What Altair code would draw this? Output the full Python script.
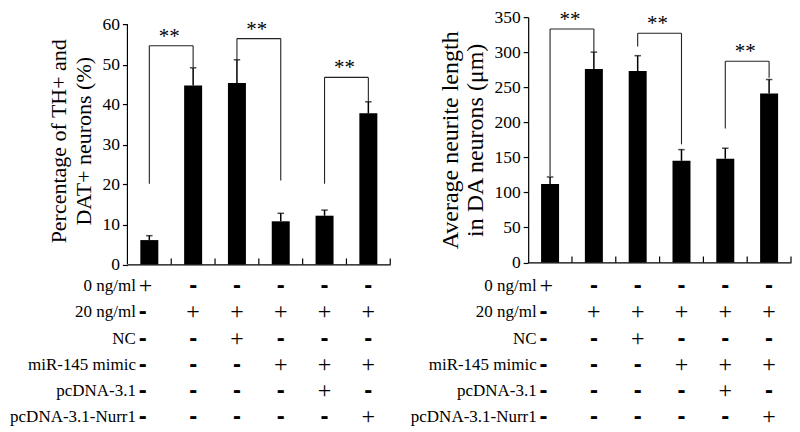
import altair as alt
import pandas as pd

FONT = "Liberation Serif"

# ---------------- data ----------------
groups = ["1", "2", "3", "4", "5", "6"]

# Left panel: percentage of TH+ and DAT+ neurons
th_mean = [6.1, 44.8, 45.4, 10.8, 12.2, 37.8]
th_sd = [1.1, 4.4, 5.8, 2.0, 1.4, 2.9]
th_ticks = [0, 10, 20, 30, 40, 50, 60]
th_br_left = ["1", "3", "5"]
th_br_right = ["2", "4", "6"]
th_br_lo = [20.2, 51.2, 20.2]
th_br_top = [54.7, 56.5, 46.8]
th_br_ro = [49.4, 21.0, 40.8]

# Right panel: average neurite length
len_mean = [112, 276, 273, 145, 148, 241]
len_sd = [10, 24, 22, 16, 15, 20]
len_ticks = [0, 50, 100, 150, 200, 250, 300, 350]
len_br_left = ["1", "3", "5"]
len_br_right = ["2", "4", "6"]
len_br_lo = [123.5, 308.0, 191.0]
len_br_top = [333.0, 327.0, 287.0]
len_br_ro = [300.0, 168.5, 263.5]

# Treatment table
rows = ["0 ng/ml", "20 ng/ml", "NC", "miR-145 mimic", "pcDNA-3.1", "pcDNA-3.1-Nurr1"]
signs = [
    ["+", "-", "-", "-", "-", "-"],
    ["-", "+", "+", "+", "+", "+"],
    ["-", "-", "+", "-", "-", "-"],
    ["-", "-", "-", "+", "+", "+"],
    ["-", "-", "-", "-", "+", "-"],
    ["-", "-", "-", "-", "-", "+"],
]

PLOT_W = 263
XSCALE = alt.Scale(domain=groups, paddingInner=0, paddingOuter=0)
XAXIS = alt.Axis(labels=False, ticks=False, title=None, domain=True,
                 domainColor="black", domainWidth=1.2, grid=False)


def bar_panel(means, sds, ticks, dom_max, height, title, title_size, title_pad,
              own_domain, bl, br, blo, btop, bro):
    df = pd.DataFrame({"group": groups, "mean": means,
                       "hi": [m + s for m, s in zip(means, sds)]})
    yscale = alt.Scale(domain=[0, dom_max], nice=False, zero=True)
    yaxis = alt.Axis(values=ticks, grid=False, domain=own_domain,
                     domainColor="black", domainWidth=1.2,
                     tickColor="black", tickSize=5, tickWidth=1.2,
                     labelFont=FONT, labelFontSize=17.5, labelColor="black",
                     labelPadding=3, title=title, titleFont=FONT,
                     titleFontSize=title_size, titleFontWeight="normal",
                     titleColor="black", titlePadding=title_pad,
                     titleLineHeight=25)

    def X(field="group:N", **kw):
        return alt.X(field, scale=XSCALE, axis=XAXIS, **kw)

    def Y(field):
        return alt.Y(field, scale=yscale, axis=yaxis)

    base = alt.Chart(df)
    bars = base.mark_bar(size=18, color="black").encode(x=X(), y=Y("mean:Q"))
    err = base.mark_rule(color="black", strokeWidth=1.5).encode(
        x=X(), y=Y("mean:Q"), y2="hi:Q")
    cap = base.mark_tick(color="black", size=6.5, thickness=1.5).encode(
        x=X(), y=Y("hi:Q"))
    xt = base.mark_rule(color="black", strokeWidth=1.2).encode(
        x=X(bandPosition=1), y=alt.value(height), y2=alt.value(height - 6))

    bdf = pd.DataFrame({"left": bl, "right": br, "lo": blo, "top": btop, "ro": bro})
    bb = alt.Chart(bdf)
    bstyle = dict(color="#222222", strokeWidth=1.1)
    leg_l = bb.mark_rule(**bstyle).encode(
        x=X("left:N", bandPosition=0.5), y=Y("lo:Q"), y2="top:Q")
    leg_r = bb.mark_rule(**bstyle).encode(
        x=X("right:N", bandPosition=0.5), y=Y("ro:Q"), y2="top:Q")
    top = bb.mark_rule(**bstyle).encode(
        x=X("left:N", bandPosition=0.5),
        x2=alt.X2("right:N", bandPosition=0.5),
        y=Y("top:Q"))
    stars = bb.mark_text(text="**", font=FONT, fontSize=21, color="black",
                         baseline="middle", dy=-9, dx=-2).encode(
        x=X("left:N", bandPosition=1), y=Y("top:Q"))

    layers = [bars, err, cap, xt, leg_l, leg_r, top, stars]
    if not own_domain:
        adf = pd.DataFrame({"a": [ticks[0]], "b": [ticks[-1]]})
        axis_line = alt.Chart(adf).mark_rule(color="black", strokeWidth=1.2).encode(
            x=alt.value(0), y=Y("a:Q"), y2="b:Q")
        layers.append(axis_line)
    return alt.layer(*layers).properties(width=PLOT_W, height=height)


def table_panel():
    long = []
    for i, r in enumerate(rows):
        for j, g in enumerate(groups):
            long.append({"row": r, "group": g, "sign": signs[i][j],
                         "first": j == 0})
    tdf = pd.DataFrame(long)
    ldf = pd.DataFrame({"row": rows, "group": [groups[0]] * len(rows)})
    xenc = alt.X("group:N", scale=XSCALE, axis=None)
    yenc = alt.Y("row:N", scale=alt.Scale(domain=rows, padding=0), axis=None)

    labels = alt.Chart(ldf).mark_text(
        font=FONT, fontSize=17, color="black", align="right",
        baseline="middle", dx=-13.4).encode(x=xenc, y=yenc, text="row:N")
    base = alt.Chart(tdf)
    plus_style = dict(font=FONT, fontSize=24, color="black", baseline="middle")
    minus_style = dict(font="Liberation Sans", fontWeight="bold", fontSize=24,
                       color="black", baseline="middle")
    p1 = base.transform_filter("datum.first && datum.sign == '+'").mark_text(
        align="left", dx=-10.6, **plus_style).encode(x=xenc, y=yenc, text="sign:N")
    m1 = base.transform_filter("datum.first && datum.sign == '-'").mark_text(
        align="left", dx=-10.6, **minus_style).encode(x=xenc, y=yenc, text="sign:N")
    p2 = base.transform_filter("!datum.first && datum.sign == '+'").mark_text(
        align="center", **plus_style).encode(x=xenc, y=yenc, text="sign:N")
    m2 = base.transform_filter("!datum.first && datum.sign == '-'").mark_text(
        align="center", **minus_style).encode(x=xenc, y=yenc, text="sign:N")
    return alt.layer(labels, p1, m1, p2, m2).properties(width=PLOT_W, height=131.5)


left_top = bar_panel(th_mean, th_sd, th_ticks, 61.875, 247.5,
                     ["Percentage of TH+ and", "DAT+ neurons (%)"], 22, 6, False,
                     th_br_left, th_br_right, th_br_lo, th_br_top, th_br_ro)
right_top = bar_panel(len_mean, len_sd, len_ticks, 350, 245.5,
                      ["Average neurite length", "in DA neurons (\u03bcm)"], 24, 6, True,
                      len_br_left, len_br_right, len_br_lo, len_br_top, len_br_ro)

chart = alt.concat(
    left_top, right_top, table_panel(), table_panel(),
    columns=2, spacing={"row": 21, "column": 138}, bounds="flush",
).properties(
    padding={"left": 1.5, "top": 0, "right": 0, "bottom": 0}
).configure(font=FONT).configure_view(stroke=None)

chart.save("out.html", embed_options={"renderer": "svg", "actions": False})
